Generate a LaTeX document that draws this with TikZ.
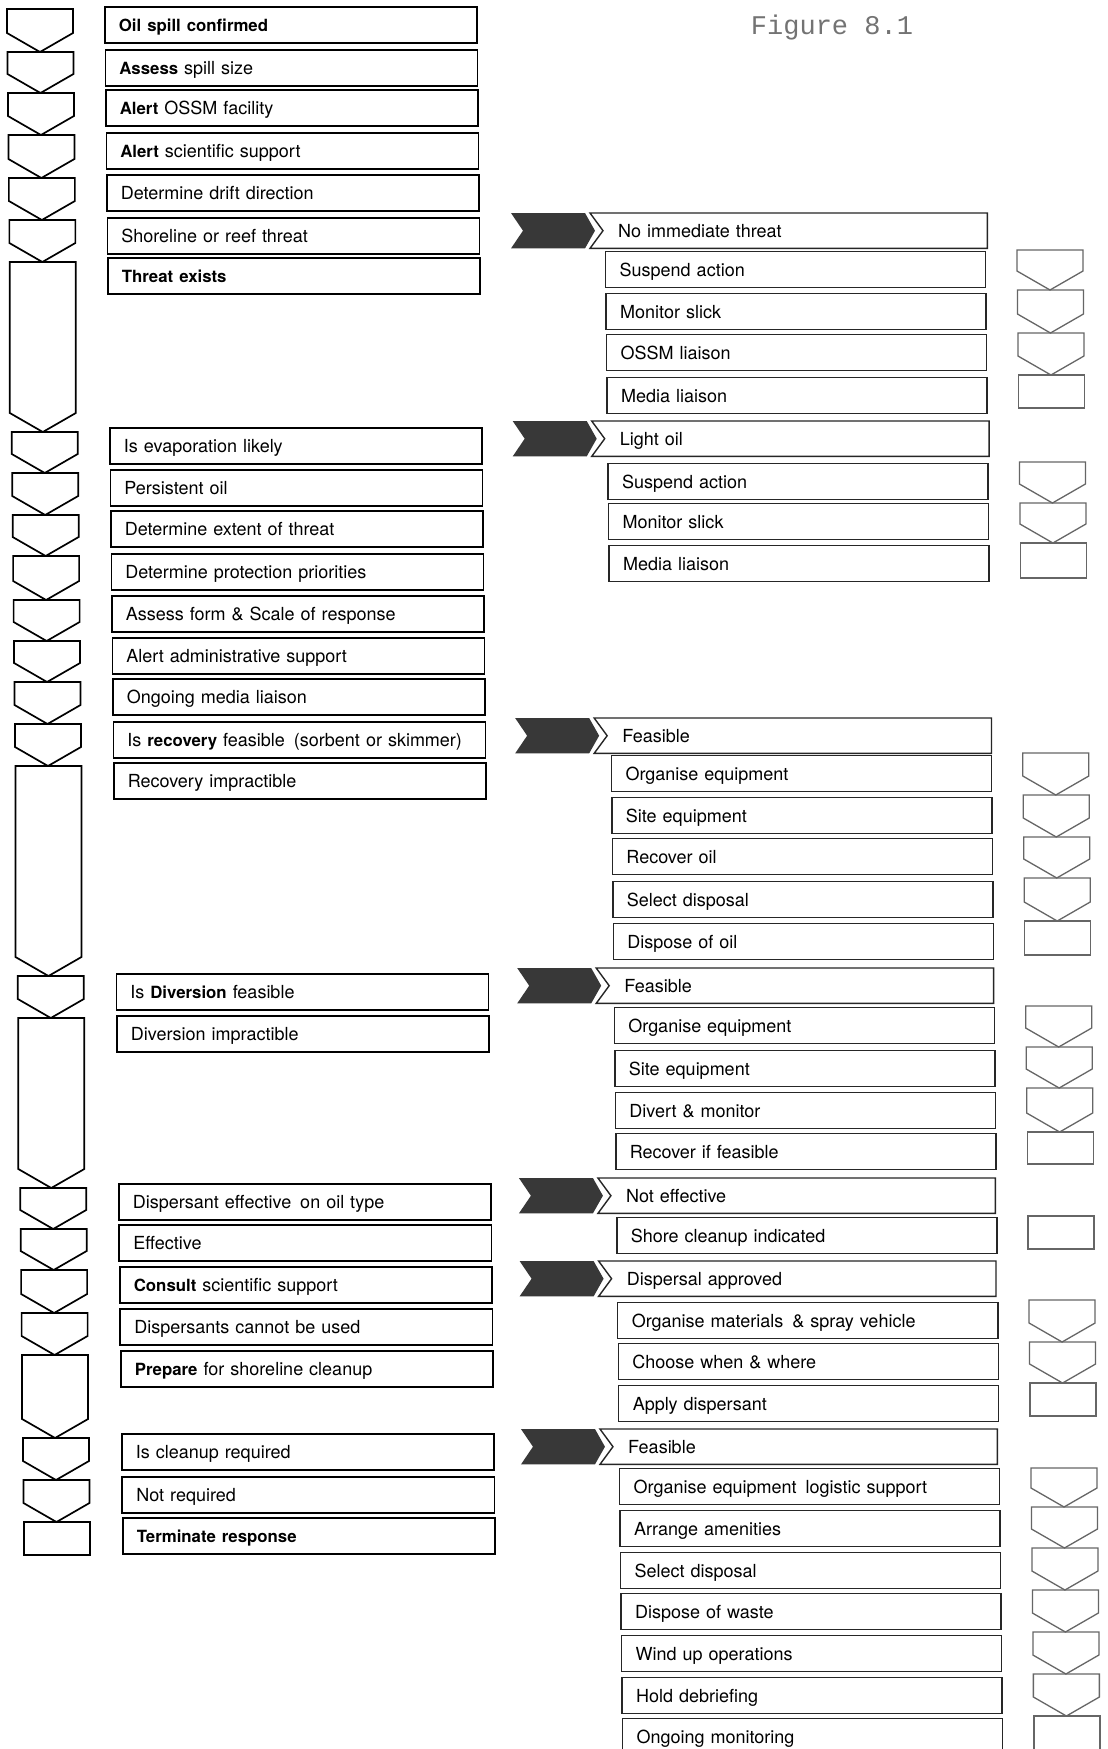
\documentclass[tikz,border=0pt]{standalone}
\usepackage{fontspec}
\setmainfont{TeX Gyre Heros}
\newfontfamily\typewfont{Liberation Mono}
\usetikzlibrary{calc}

\tikzset{
  ln/.style={line width=1.7pt, line join=miter},
  rln/.style={line width=1.4pt, draw=black!85, line join=miter},
  chevln/.style={line width=1.3pt, draw=black!60, line join=miter},
  steptext/.style={font=\fontsize{18}{20}\selectfont, text height=15pt, text depth=2pt,
    inner ysep=0pt, align=left, anchor=north west},
  lbox/.style={steptext, draw, ln, minimum height=36pt, text width=344pt, inner xsep=14pt},
  rbox/.style={steptext, rln, draw=black!85, minimum height=36pt, text width=352pt, inner xsep=14pt},
  hbox/.style={steptext, minimum height=35pt, text width=341pt, inner xsep=28pt},
  darkarrow/.style={fill=black!78},
}

% emphasised words, set a little tighter than the body text
\newcommand\keyword[1]{{\fontsize{16.8}{20}\selectfont\bfseries #1}}

% main sequence box, left column
\newcommand\leftbox[3]{%
  \pgfmathsetmacro\bx{104+0.0119*(#2-6)}%
  \node[lbox] (#1) at (\bx,#2) {#3};}
% action box, right column
\newcommand\rightbox[3]{%
  \pgfmathsetmacro\bx{605+0.0115*(#2-251)}%
  \node[rbox] (#1) at (\bx,#2) {#3};}
% branch heading: notched box with a solid arrow in front of it
\newcommand\headbox[3]{%
  \pgfmathsetmacro\bx{590+0.0082*(#2-213)}%
  \node[hbox] (#1) at (\bx,#2) {#3};
  \draw[rln] (#1.north west) -- (#1.north east) -- (#1.south east) -- (#1.south west)
    -- ($(#1.west)+(13,0)$) -- cycle;
  \fill[darkarrow] ($(#1.north west)+(-5,0)$) -- ($(#1.west)+(5,0)$)
    -- ($(#1.south west)+(-5,0)$) -- ($(#1.south west)+(-79,0)$)
    -- ($(#1.west)+(-67,0)$) -- ($(#1.north west)+(-79,0)$) -- cycle;}
% downward chevrons (top y, point y) and closing rectangles
\newcommand\lchev[2]{%
  \pgfmathsetmacro\cx{7+0.0112*(#1-9)}%
  \draw[ln] (\cx,#1) -- ++(66,0) -- ++(0,{#2-#1-19}) -- ++(-33,19) -- ++(-33,-19) -- cycle;}
\newcommand\lend[2]{%
  \pgfmathsetmacro\cx{7+0.0112*(#1-9)}%
  \draw[ln] (\cx,#1) rectangle ++(66,{#2-#1});}
\newcommand\rchev[2]{%
  \pgfmathsetmacro\cx{1017+0.0115*(#1-250)}%
  \draw[chevln] (\cx,#1) -- ++(66,0) -- ++(0,{#2-#1-19}) -- ++(-33,19) -- ++(-33,-19) -- cycle;}
\newcommand\rend[2]{%
  \pgfmathsetmacro\cx{1017+0.0115*(#1-250)}%
  \draw[chevln] (\cx,#1) rectangle ++(66,{#2-#1});}

\begin{document}
\begin{tikzpicture}[x=1pt,y=-1pt]
\useasboundingbox (0,0) rectangle (1108,1749);
\clip (0,0) rectangle (1108,1749);
\fill[white] (0,0) rectangle (1108,1749);

\node[font=\typewfont\fontsize{27}{30}\selectfont, text=black!55] (title) at (832,28) {Figure 8.1};

% ---- left column: main sequence ----
\foreach \t/\p in {9/52,52/93,93/135,135/178,178/220,220/262,262/432,432/473,473/515,
  515/556,556/600,600/641,641/682,682/724,724/766,766/976,976/1018,1018/1188,1188/1229,
  1229/1270,1270/1313,1313/1355,1355/1438,1438/1480,1480/1522}{\lchev{\t}{\p}}
\lend{1522}{1555}

\leftbox{s1}{6}{\keyword{Oil spill confirmed}}
\leftbox{s2}{49}{\keyword{Assess} spill size}
\leftbox{s3}{89}{\keyword{Alert} OSSM facility}
\leftbox{s4}{132}{\keyword{Alert} scientific support}
\leftbox{s5}{174}{Determine drift direction}
\leftbox{s6}{217}{Shoreline or reef threat}
\leftbox{s7}{257}{\keyword{Threat exists}}
\leftbox{s8}{427}{Is evaporation likely}
\leftbox{s9}{469}{Persistent oil}
\leftbox{s10}{510}{Determine extent of threat}
\leftbox{s11}{553}{Determine protection priorities}
\leftbox{s12}{595}{Assess form \& Scale of response}
\leftbox{s13}{637}{Alert administrative support}
\leftbox{s14}{678}{Ongoing media liaison}
\leftbox{s15}{721}{Is \keyword{recovery} feasible\enspace(sorbent or skimmer)}
\leftbox{s16}{762}{Recovery impractible}
\leftbox{s17}{973}{Is \keyword{Diversion} feasible}
\leftbox{s18}{1015}{Diversion impractible}
\leftbox{s19}{1183}{Dispersant effective\enspace on oil type}
\leftbox{s20}{1224}{Effective}
\leftbox{s21}{1266}{\keyword{Consult} scientific support}
\leftbox{s22}{1308}{Dispersants cannot be used}
\leftbox{s23}{1350}{\keyword{Prepare} for shoreline cleanup}
\leftbox{s24}{1433}{Is cleanup required}
\leftbox{s25}{1476}{Not required}
\leftbox{s26}{1517}{\keyword{Terminate response}}

% ---- right column: branches ----
\headbox{h1}{213}{No immediate threat}
\rightbox{a1}{251}{Suspend action}
\rightbox{a2}{293}{Monitor slick}
\rightbox{a3}{334}{OSSM liaison}
\rightbox{a4}{377}{Media liaison}

\headbox{h2}{421}{Light oil}
\rightbox{b1}{463}{Suspend action}
\rightbox{b2}{503}{Monitor slick}
\rightbox{b3}{545}{Media liaison}

\headbox{h3}{718}{Feasible}
\rightbox{c1}{755}{Organise equipment}
\rightbox{c2}{797}{Site equipment}
\rightbox{c3}{838}{Recover oil}
\rightbox{c4}{881}{Select disposal}
\rightbox{c5}{923}{Dispose of oil}

\headbox{h4}{968}{Feasible}
\rightbox{d1}{1007}{Organise equipment}
\rightbox{d2}{1050}{Site equipment}
\rightbox{d3}{1092}{Divert \& monitor}
\rightbox{d4}{1133}{Recover if feasible}

\headbox{h5}{1178}{Not effective}
\rightbox{e1}{1217}{Shore cleanup indicated}

\headbox{h6}{1261}{Dispersal approved}
\rightbox{f1}{1302}{Organise materials\enspace\& spray vehicle}
\rightbox{f2}{1343}{Choose when \& where}
\rightbox{f3}{1385}{Apply dispersant}

\headbox{h7}{1429}{Feasible}
\rightbox{g1}{1468}{Organise equipment\enspace logistic support}
\rightbox{g2}{1510}{Arrange amenities}
\rightbox{g3}{1552}{Select disposal}
\rightbox{g4}{1593}{Dispose of waste}
\rightbox{g5}{1635}{Wind up operations}
\rightbox{g6}{1677}{Hold debriefing}
\rightbox{g7}{1718}{Ongoing monitoring}

% ---- far right: branch sequence markers ----
\foreach \t/\p in {250/290,290/333,333/375}{\rchev{\t}{\p}}
\rend{375}{408}
\foreach \t/\p in {462/503,503/543}{\rchev{\t}{\p}}
\rend{543}{578}
\foreach \t/\p in {753/795,795/837,837/878,878/921}{\rchev{\t}{\p}}
\rend{921}{955}
\foreach \t/\p in {1006/1047,1047/1088,1088/1132}{\rchev{\t}{\p}}
\rend{1132}{1164}
\rend{1216}{1249}
\foreach \t/\p in {1300/1342,1342/1383}{\rchev{\t}{\p}}
\rend{1383}{1416}
\foreach \t/\p in {1468/1507,1507/1548,1548/1590,1590/1632,1632/1674,1674/1716}{\rchev{\t}{\p}}
\rend{1716}{1765}
\end{tikzpicture}
\end{document}
